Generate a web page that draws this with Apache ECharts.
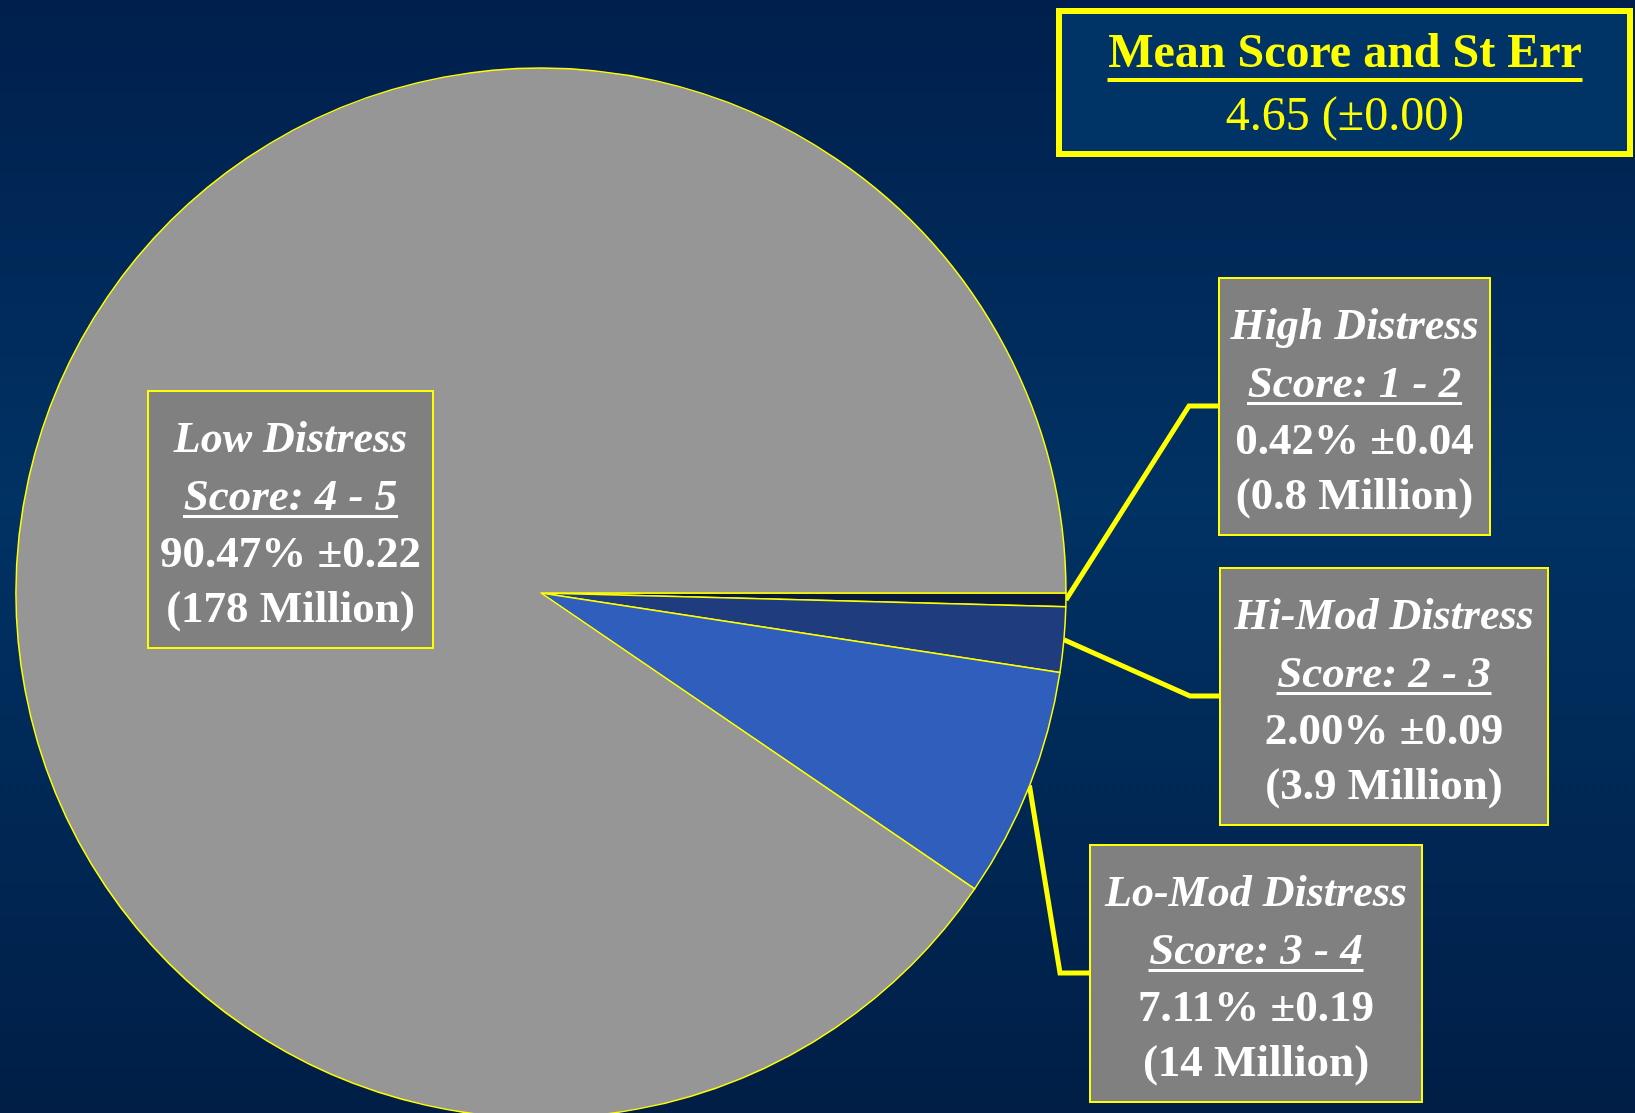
<!DOCTYPE html>
<html lang="en">
<head>
  <meta charset="UTF-8">
  <title>Distress Score Distribution</title>
  <style>
    html, body { margin: 0; padding: 0; }
    #pie { width: 1635px; height: 1113px; }
  </style>
</head>
<body>
  <div id="pie"></div>
  <script src="https://cdn.jsdelivr.net/npm/echarts@6/dist/echarts.min.js"></script>
  <script>
    // data
    var categories = ['High Distress', 'Hi-Mod Distress', 'Lo-Mod Distress', 'Low Distress'];
    var scoreRanges = ['1 - 2', '2 - 3', '3 - 4', '4 - 5'];
    var percents = [0.42, 2.00, 7.11, 90.47];
    var stdErrs = [0.04, 0.09, 0.19, 0.22];
    var millions = ['0.8', '3.9', '14', '178'];
    var meanScore = 4.65;
    var meanErr = 0.00;

    // look
    var sliceColors = ['#0a1a3c', '#1f3d7e', '#2f5ebc', '#969696'];
    var serif = '"Liberation Serif", "Times New Roman", serif';
    // label boxes: left, top, width
    var boxLayout = [[1220, 279, 269], [1221, 569, 326], [1091, 846, 330], [149, 392, 283]];
    var pieCenter = [541, 593];
    var pieRadius = 525;

    var chart = echarts.init(document.getElementById('pie'));

    var pieData = categories.map(function (name, i) {
      return {
        name: name,
        value: percents[i],
        itemStyle: { color: sliceColors[i] },
        labelLine: { show: i < 3 }
      };
    });

    // fallback anchor on the rim, at the middle of slice i
    function rimPoint(i) {
      var before = 0;
      for (var k = 0; k < i; k++) before += percents[k];
      var a = (before + percents[i] / 2) / 100 * Math.PI * 2;
      return [pieCenter[0] + pieRadius * Math.cos(a), pieCenter[1] + pieRadius * Math.sin(a)];
    }

    var option = {
      backgroundColor: new echarts.graphic.LinearGradient(0, 0, 0, 1, [
        { offset: 0, color: '#001f4c' },
        { offset: 0.45, color: '#003264' },
        { offset: 1, color: '#001e46' }
      ]),
      animation: false,
      series: [{
        type: 'pie',
        center: pieCenter,
        radius: pieRadius,
        startAngle: 0,
        clockwise: true,
        avoidLabelOverlap: false,
        emphasis: { disabled: true },
        itemStyle: { borderColor: '#ffff00', borderWidth: 1.5 },
        label: {
          show: true,
          position: 'outside',
          backgroundColor: '#808080',
          borderColor: '#ffff00',
          borderWidth: 2,
          padding: [9, 0, 9, 0],
          formatter: function (p) {
            var i = p.dataIndex;
            return '{t|' + categories[i] + '}\n{s|Score: ' + scoreRanges[i] + '}\n{u| }\n' +
              '{v|' + percents[i].toFixed(2) + '% \u00b1' + stdErrs[i].toFixed(2) + '}\n' +
              '{v|(' + millions[i] + ' Million)}';
          },
          rich: {
            t: { fontFamily: serif, fontStyle: 'italic', fontWeight: 'bold', fontSize: 44, color: '#fff', lineHeight: 80, align: 'center' },
            s: { fontFamily: serif, fontStyle: 'italic', fontWeight: 'bold', fontSize: 45, color: '#fff', lineHeight: 34, align: 'center' },
            u: { width: 215, height: 3, lineHeight: 13, fontSize: 2, backgroundColor: '#fff', align: 'center', verticalAlign: 'top' },
            v: { fontFamily: serif, fontWeight: 'bold', fontSize: 45, color: '#fff', lineHeight: 55, align: 'center' }
          }
        },
        labelLine: {
          show: true,
          length: 20,
          length2: 20,
          lineStyle: { color: '#ffff00', width: 5 }
        },
        labelLayout: function (params) {
          var i = params.dataIndex;
          var b = boxLayout[i];
          var res = { x: b[0], y: b[1], align: 'left', verticalAlign: 'top', width: b[2] };
          if (i < 3) {
            var start = params.labelLinePoints ? params.labelLinePoints[0] : rimPoint(i);
            var yy = b[1] + 127;
            res.labelLinePoints = [start, [b[0] - 31, yy], [b[0], yy]];
          }
          return res;
        },
        data: pieData
      }],
      graphic: [{
        type: 'rect',
        shape: { x: 1059, y: 11, width: 571, height: 143 },
        style: { fill: '#003366', stroke: '#ffff00', lineWidth: 6 }
      }, {
        type: 'text',
        x: 1345,
        y: 32,
        style: {
          text: '{h|Mean Score and St Err}\n{u| }\n{m|' + meanScore.toFixed(2) + ' (\u00b1' + meanErr.toFixed(2) + ')}',
          align: 'center',
          verticalAlign: 'top',
          rich: {
            h: { fontFamily: serif, fontWeight: 'bold', fontSize: 48, fill: '#ffff00', lineHeight: 46, align: 'center' },
            u: { width: 475, height: 4, lineHeight: 14, fontSize: 2, backgroundColor: '#ffff00', align: 'center', verticalAlign: 'top' },
            m: { fontFamily: serif, fontSize: 48, fill: '#ffff00', lineHeight: 50, align: 'center' }
          }
        }
      }]
    };
    chart.setOption(option);
  </script>
</body>
</html>
